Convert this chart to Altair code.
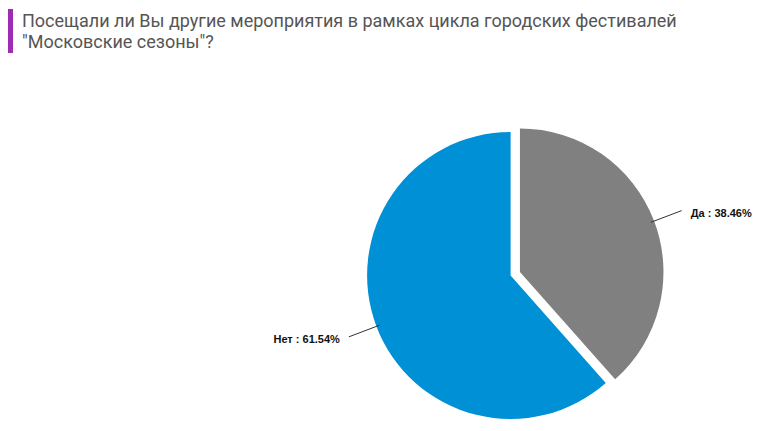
import altair as alt
import pandas as pd

TITLE_LINES = [
    "Посещали ли Вы другие мероприятия в рамках цикла городских фестивалей",
    "\"Московские сезоны\"?",
]
LABELS = ["Да", "Нет"]
VALUES = [38.46, 61.54]
COLORS = ["#808080", "#0090d5"]
EXPLODED = "Да"

W, H = 748, 415
CX, CY, R = 502.6, 267.5, 143.5
EXPLODE = 10
R1, R2 = 140, 173

df = pd.DataFrame({"label": LABELS, "value": VALUES})

base = (
    alt.Chart(df)
    .transform_window(idx="row_number()")
    .transform_joinaggregate(total="sum(value)")
    .transform_window(cum="sum(value)", sort=[alt.SortField("idx")], frame=[None, 0])
    .transform_calculate(
        start="(datum.cum - datum.value) / datum.total * 2 * PI",
        end="datum.cum / datum.total * 2 * PI",
    )
    .transform_calculate(mid="(datum.start + datum.end) / 2")
    .transform_calculate(off=f"datum.label == '{EXPLODED}' ? {EXPLODE} : 0")
    .transform_calculate(
        cx=f"{CX} + datum.off * sin(datum.mid)",
        cy=f"{CY} - datum.off * cos(datum.mid)",
    )
    .transform_calculate(
        lx1=f"datum.cx + {R1} * sin(datum.mid)",
        ly1=f"datum.cy - {R1} * cos(datum.mid)",
        lx2=f"datum.cx + {R2} * sin(datum.mid)",
        ly2=f"datum.cy - {R2} * cos(datum.mid)",
        side="sin(datum.mid) > 0 ? 1 : -1",
        txt="datum.label + ' : ' + format(datum.value, '.2f') + '%'",
    )
    .transform_calculate(
        tx="datum.lx2 + datum.side * 9",
        ty="datum.ly2 + 3",
    )
)

arcs = base.mark_arc(radius=R).encode(
    theta=alt.Theta("start:Q", scale=None),
    theta2="end:Q",
    x=alt.X("cx:Q", scale=None),
    y=alt.Y("cy:Q", scale=None),
    color=alt.Color("label:N", scale=alt.Scale(domain=LABELS, range=COLORS), legend=None),
)

leaders = base.mark_rule(color="#333333", strokeWidth=1).encode(
    x=alt.X("lx1:Q", scale=None),
    y=alt.Y("ly1:Q", scale=None),
    x2="lx2:Q",
    y2="ly2:Q",
)

label_style = dict(font="Liberation Sans", fontSize=11, fontWeight="bold", color="#111111", baseline="middle")

labels_right = base.transform_filter("datum.side > 0").mark_text(align="left", **label_style).encode(
    x=alt.X("tx:Q", scale=None), y=alt.Y("ty:Q", scale=None), text="txt:N"
)
labels_left = base.transform_filter("datum.side < 0").mark_text(align="right", **label_style).encode(
    x=alt.X("tx:Q", scale=None), y=alt.Y("ty:Q", scale=None), text="txt:N"
)

title_style = dict(font="Roboto", fontSize=18, color="#555555", align="left", baseline="alphabetic")
t1 = alt.Chart(pd.DataFrame({"t": [TITLE_LINES[0]]})).mark_text(**title_style).encode(
    x=alt.value(14), y=alt.value(19.3), text="t:N"
)
t2 = alt.Chart(pd.DataFrame({"t": [TITLE_LINES[1]]})).mark_text(**title_style).encode(
    x=alt.value(14), y=alt.value(40.3), text="t:N"
)
bar = alt.Chart(pd.DataFrame({"a": [0]})).mark_rule(color="#9f2ab5", strokeWidth=5).encode(
    x=alt.value(2.5), y=alt.value(1), y2=alt.value(45)
)

chart = (
    alt.layer(arcs, leaders, labels_right, labels_left, bar, t1, t2)
    .properties(width=W, height=H, padding=0, autosize=alt.AutoSizeParams(type="none"))
    .configure_view(stroke=None)
)

chart.save("out.html", embed_options={"renderer": "svg", "actions": False})
